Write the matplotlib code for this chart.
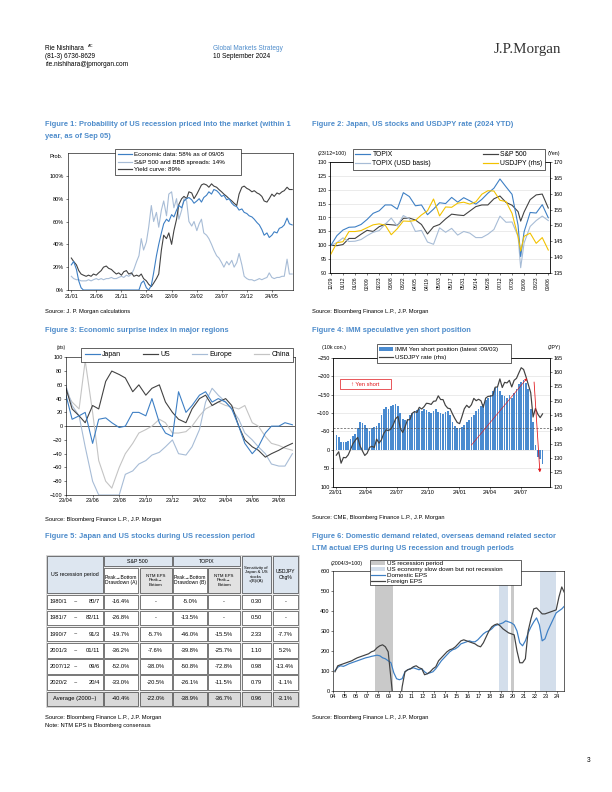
import numpy as np
import pandas as pd
import matplotlib
matplotlib.use("Agg")
import matplotlib.pyplot as plt
import matplotlib.dates as mdates
from matplotlib.lines import Line2D
from matplotlib.patches import Patch, Rectangle

plt.rcParams['font.family'] = ['Liberation Sans', 'DejaVu Sans']
plt.rcParams['axes.linewidth'] = 0.6

W, H = 612, 792
BLUE = '#3d7fc4'
DARK = '#424242'
LIGHT = '#a7bcd6'
GRAY = '#c4c4c4'
YELLOW = '#f2c200'
BARBLUE = '#4a8bd0'
TITLE_BLUE = '#4e8ccb'
HDR = '#dde6f0'
RED = '#e0161b'

# ---------------- data ----------------
# Figure 1: semi-monthly from 2021/01
f1_econ = [22, 25, 18, 8, 2, 0,
           0, 0, 0, 0, 0, 0, 0, 0, 0, 0, 0, 0, 0, 0, 0, 0, 0, 0, 0, 0, 0, 0,
           6, 8, 2, 0, 4, 15, 30, 40, 50, 58,
           62, 60, 66, 64, 70, 74, 72, 78, 80, 81,
           79, 76, 78, 80, 77, 81, 83, 86, 84, 88,
           87, 85, 82, 83, 79, 80, 76, 74, 73, 70,
           71, 68, 67, 65, 64, 62, 59, 57, 53, 48,
           50, 46, 48, 51, 50, 54, 55, 57, 63, 58, 57]
f1_spread = [12, 10, 9, 9, 8, 8, 8, 9, 8, 9,
             10, 9, 10, 9, 10, 10, 11, 10, 10, 11,
             12, 11, 13, 12, 14, 18, 25, 30, 45, 35,
             42, 55, 74, 60, 68, 55, 70, 78, 65, 84,
             86, 72, 80, 62, 70, 80, 78, 60, 56, 60,
             52, 58, 62, 50, 48, 45, 40, 35, 30, 28,
             24, 20, 25, 22, 26, 20, 24, 32, 22, 12,
             10, 9, 9, 8, 9, 10, 9, 10, 11, 15,
             11, 10, 11, 11, 12, 12, 27, 14, 14]
f1_yield = [28, 25, 22, 17, 14, 13, 12, 13, 12, 14,
            13, 15, 17, 20, 21, 19, 18, 16, 14, 15,
            13, 16, 17, 14, 15, 12, 13, 12, 14, 10,
            8, 5, 3, 6, 10, 14, 35, 48, 45, 50,
            40, 52, 62, 75, 80, 82, 80, 86, 85, 80,
            84, 88, 92, 93, 92, 90, 93, 91, 90, 88,
            86, 84, 82, 80, 78, 76, 74, 84, 90, 91,
            89, 88, 86, 87, 85, 84, 82, 78, 77, 80,
            84, 82, 85, 84, 86, 87, 90, 88, 88]
f1_ticks = ['21/01', '21/06', '21/11', '22/04', '22/09', '23/02', '23/07', '23/12', '24/05']

# Figure 2: weekly from 2023/12/29 plus 2024/08/05
f2_topix = [100, 103.5, 105.5, 106.5, 106.6, 107.5, 109.3, 111.5, 112.4, 114.5,
            114.5, 113, 118.9, 117.5, 114.2, 114.5, 111, 113, 115.3, 115,
            117.2, 115.5, 117.1, 116, 114.8, 116.5, 118.7, 120.5, 123.8, 121,
            118.3, 107.2, 96, 104.9, 111.8, 111.6, 114.6, 109.9]
f2_spx = [100, 99.9, 100.3, 102.5, 102.5, 104, 105.4, 105, 106.7, 107.6,
          107.4, 107.2, 109.7, 109.8, 109.1, 107.5, 104.1, 106.7, 107.5, 109.5,
          111.2, 110.9, 110.7, 112.3, 113.9, 114.5, 114.5, 116.7, 117.7, 115.4,
          114.4, 112.1, 108.7, 112, 116.4, 118.1, 118.4, 113.4]
f2_topix_usd = [100, 101, 102.7, 101.4, 101.5, 102.1, 103.5, 104.7, 105.3, 107.6,
                109.8, 106.9, 110.7, 109.5, 105, 105.4, 101.2, 100.4, 106.3, 104.7,
                106.1, 103.7, 105, 104.4, 102.8, 102.8, 104, 105.7, 110.5, 108.3,
                108.4, 103.2, 92, 100.9, 106.8, 108.9, 110.5, 108.9]
f2_usdjpy = [141, 144.6, 144.9, 148.1, 148.1, 148.4, 149.3, 150.2, 150.5, 150.1,
             147.1, 149, 151.4, 151.3, 151.6, 153.3, 154.6, 158.3, 153, 155.8,
             155.7, 157, 157.3, 156.7, 157.4, 159.8, 160.9, 160.8, 157.9, 157.5,
             153.8, 146.5, 142, 146.6, 147.6, 144.4, 146.2, 142.3]

# Figure 3: semi-monthly from 2023/04
f3_japan = [45, 10, 15, 20, -25, 10, 12, 5, -2, 0,
            20, 20, 15, 40, 5, -10, -15, 50, 20, 30,
            45, 50, 35, 40, 35, 25, 0, -25, -40, -30,
            -10, 0, 0, 5, 2]
f3_us = [55, 25, 15, 5, 30, 25, 65, 80, 75, 70,
         50, 60, 45, 55, 60, 35, 20, 10, 5, 25,
         40, 45, 30, 35, 40, 30, 0, -20, -30, -35,
         -45, -40, -35, -30, -25]
f3_europe = [58, 30, 15, -30, -80, -100, -100, -100, -100, -70,
             -65, -55, -50, -42, -38, -30, -20, -40, -42, -30,
             -5, 35, 55, 45, 35, 25, 10, -10, -20, -30,
             -40, -55, -58, -58, -40]
f3_china = [50, 35, 25, 95, 20, -50, -80, -90, -60, -40,
            -25, -10, -5, 0, 10, 5, -10, -10, -8, 0,
            15, 25, 30, 35, 30, 28, 25, 30, 5, 0,
            -15, -25, -28, -32, -35]

# Figure 4: weekly (Tuesday) from 2023/01/03 to 2024/09/03
f4_short = [-40, -35, -22, -20, -22, -25, -30, -38, -42, -60, -75, -72, -68,
            -58, -50, -60, -62, -65, -72, -95, -110, -115, -112, -118, -122, -125,
            -118, -100, -85, -80, -85, -95, -100, -105, -108, -110, -106, -112, -108,
            -104, -100, -106, -110, -104, -100, -96, -102, -105, -95, -75, -65, -60,
            -58, -62, -68, -75, -82, -88, -95, -105, -112, -118, -125, -135, -140,
            -148, -160, -168, -172, -160, -150, -145, -140, -148, -140, -155, -165, -180,
            -185, -190, -182, -165, -110, -75, -12, 20, 25, 38]
f4_usdjpy = [131.0, 132.2, 128.2, 130.2, 130.1, 131.1, 133.0, 135.0, 136.2,
             137.2, 134.2, 132.5, 130.9, 131.7, 133.7, 134.1, 133.7,
             136.6, 135.2, 136.3, 138.6, 139.8, 139.6, 140.1, 141.6, 143.7,
             144.5, 140.3, 138.9, 140.9, 143.3, 143.4, 145.6, 146.2, 145.9,
             147.7, 147.1, 147.9, 149.1, 149.0, 148.7, 149.8, 149.9, 151.7,
             150.4, 150.4, 148.4, 147.4, 147.2, 145.4, 143.8, 142.4,
             142.0, 144.5, 147.2, 148.4, 147.6, 148.6, 150.8, 150.0, 150.5,
             150.0, 147.7, 150.9, 151.5, 151.6, 151.8, 154.7, 154.8, 157.6,
             154.6, 156.4, 156.2, 157.1, 154.8, 157.1, 157.8, 159.7,
             161.5, 160.9, 158.4, 155.6, 152.8, 144.3, 147.3, 145.3, 144.1, 145.4]

# Figure 5 table
t5_start = ['1980/1', '1981/7', '1990/7', '2001/3', '2007/12', '2020/2']
t5_end = ['80/7', '82/11', '91/3', '01/11', '09/6', '20/4']
t5_spx_dd = ['-16.4%', '-26.8%', '-19.7%', '-36.2%', '-52.0%', '-33.0%', '-40.4%']
t5_spx_eps = ['-', '-', '-5.7%', '-7.6%', '-38.0%', '-20.5%', '-22.0%']
t5_tpx_dd = ['-5.0%', '-13.5%', '-46.0%', '-39.8%', '-50.8%', '-26.1%', '-38.9%']
t5_tpx_eps = ['-', '-', '-15.5%', '-25.7%', '-72.8%', '-11.5%', '-36.7%']
t5_sens = ['0.30', '0.50', '2.33', '1.10', '0.98', '0.79', '0.96']
t5_fx = ['-', '-', '-7.7%', '5.2%', '-13.4%', '-1.1%', '-3.1%']

# Figure 6: quarterly from 2004
f6_dom = [100, 118, 125, 122, 128, 135, 140, 145, 150, 155, 160, 165,
          168, 172, 175, 178, 175, 165, 160, 150, 140, 90, 60, 55,
          60, 95, 105, 110, 115, 110, 105, 110, 95, 85, 90, 95,
          110, 130, 150, 165, 180, 195, 205, 210, 220, 235, 240, 245,
          250, 245, 245, 255, 270, 285, 295, 300, 310, 325, 330, 335,
          340, 350, 345, 340, 330, 300, 240, 225, 250, 290, 320, 345,
          365, 330, 250, 260, 300, 330, 360, 390, 400, 410, 425]
f6_for = [95, 125, 130, 135, 140, 145, 150, 158, 165, 170, 175, 180,
          185, 195, 200, 215, 225, 230, 220, 195, 60, -80, -150, -100,
          20, 95, 105, 110, 120, 125, 115, 110, 80, 85, 95, 110,
          120, 150, 165, 180, 195, 205, 210, 220, 235, 250, 255, 250,
          245, 240, 235, 225, 220, 240, 270, 300, 320, 330, 335, 325,
          310, 300, 290, 285, 280, 200, 140, 140, 160, 300, 360, 410,
          415, 400, 385, 385, 390, 395, 400, 405, 470, 520, 490]
f6_recession = [(2007.72, 2009.3), (2019.86, 2020.16)]
f6_slowdown = [(2018.8, 2019.6), (2022.45, 2023.85)]

# ---------------- figure ----------------
fig = plt.figure(figsize=(W / 72, H / 72), dpi=72)
page = fig.add_axes([0, 0, 1, 1])
page.set_xlim(0, W)
page.set_ylim(H, 0)
page.axis('off')


def add_ax(l, t, r, b):
    return fig.add_axes([l / W, 1 - b / H, (r - l) / W, (b - t) / H])


def style(ax, fs=5.5):
    ax.tick_params(labelsize=fs, length=2, width=0.5, pad=1.5)
    for s in ax.spines.values():
        s.set_linewidth(0.6)


def ptext(x, y, s, **kw):
    kw.setdefault('fontsize', 5.7)
    kw.setdefault('va', 'center')
    page.text(x, y, s, **kw)


def legend_box(ax, handles, labels, bbox, ncol=1, fs=6.3, bpad=0.45, lspace=0.3, **kw):
    leg = ax.legend(handles, labels, loc='upper left', bbox_to_anchor=bbox, mode='expand',
                    ncol=ncol, fontsize=fs, frameon=True, fancybox=False, borderpad=bpad,
                    labelspacing=lspace, handlelength=2.2, handletextpad=0.3,
                    borderaxespad=0, columnspacing=1.0, **kw)
    leg.get_frame().set_edgecolor('black')
    leg.get_frame().set_linewidth(0.6)
    leg.get_frame().set_alpha(1)
    leg.set_zorder(10)
    return leg


# header
ptext(45, 48, 'Rie Nishihara', fontsize=6.5)
ptext(88, 46, 'AC', fontsize=4)
ptext(45, 56, '(81-3) 6736-8629', fontsize=6.5)
ptext(45, 64, 'rie.nishihara@jpmorgan.com', fontsize=6.5)
ptext(213, 48, 'Global Markets Strategy', fontsize=6.5, color=TITLE_BLUE)
ptext(213, 56, '10 September 2024', fontsize=6.5)
ptext(527, 50, 'J.P.Morgan', fontsize=15, ha='center', color='#333333',
      family=['Liberation Serif', 'DejaVu Serif'])

# titles and sources
tkw = dict(fontsize=7.5, color=TITLE_BLUE, fontweight='bold')
ptext(45, 125, 'Figure 1: Probability of US recession priced into the market (within 1', **tkw)
ptext(45, 136, 'year, as of Sep 05)', **tkw)
ptext(312, 125, 'Figure 2: Japan, US stocks and USDJPY rate (2024 YTD)', **tkw)
ptext(45, 330, 'Figure 3: Economic surprise index in major regions', **tkw)
ptext(312, 330, 'Figure 4: IMM speculative yen short position', **tkw)
ptext(45, 536, 'Figure 5: Japan and US stocks during US recession period', **tkw)
ptext(312, 536, 'Figure 6: Domestic demand related, overseas demand related sector', **tkw)
ptext(312, 548, 'LTM actual EPS during US recession and trough periods', **tkw)

ptext(45, 311, 'Source: J. P. Morgan calculations')
ptext(312, 311, 'Source: Bloomberg Finance L.P., J.P. Morgan')
ptext(45, 519, 'Source: Bloomberg Finance L.P., J.P. Morgan')
ptext(312, 517, 'Source: CME, Bloomberg Finance L.P., J.P. Morgan')
ptext(45, 717, 'Source: Bloomberg Finance L.P., J.P. Morgan')
ptext(45, 726, 'Note: NTM EPS is Bloomberg consensus')
ptext(312, 717, 'Source: Bloomberg Finance L.P., J.P. Morgan')
ptext(587, 760, '3', fontsize=6.5)

# ---- Figure 1 ----
ax1 = add_ax(67.7, 153, 293, 290)
d1 = pd.date_range('2021-01-01', periods=len(f1_econ), freq='SMS')
ax1.plot(d1, f1_spread, color=LIGHT, lw=1.1)
ax1.plot(d1, f1_yield, color=DARK, lw=1.1)
ax1.plot(d1, f1_econ, color=BLUE, lw=1.1)
ax1.set_ylim(0, 120)
ax1.set_yticks(range(0, 101, 20))
ax1.set_yticklabels([f'{v}%' for v in range(0, 101, 20)])
ax1.set_xlim(pd.Timestamp('2020-12-10'), pd.Timestamp('2024-09-06'))
ax1.set_xticks(pd.date_range('2021-01-01', periods=len(f1_ticks), freq='5MS'))
ax1.set_xticklabels(f1_ticks)
style(ax1)
ptext(50, 156, 'Prob.', fontsize=5.5)
legend_box(ax1, [Line2D([], [], color=BLUE, lw=1.2), Line2D([], [], color=LIGHT, lw=1.2),
                 Line2D([], [], color=DARK, lw=1.2)],
           ['Economic data: 58% as of 09/05', 'S&P 500 and BBB spreads: 14%', 'Yield curve: 89%'],
           (0.21, 1.03, 0.56, 0.0), fs=6.3, bpad=0.45, lspace=0.35)

# ---- Figure 2 ----
ax2 = add_ax(330, 161.7, 550, 273.3)
d2 = list(pd.date_range('2023-12-29', periods=37, freq='7D'))
d2.insert(32, pd.Timestamp('2024-08-05'))
ax2.yaxis.grid(True, color='#d9d9d9', lw=0.5)
ax2.set_axisbelow(True)
ax2.plot(d2, f2_spx, color=DARK, lw=1.1)
ax2.plot(d2, f2_topix_usd, color=LIGHT, lw=1.1)
ax2.plot(d2, f2_topix, color=BLUE, lw=1.1)
ax2.set_ylim(90, 130)
ax2.set_yticks(range(90, 131, 5))
ax2r = ax2.twinx()
ax2r.plot(d2, f2_usdjpy, color=YELLOW, lw=1.1)
ax2r.set_ylim(135, 170)
ax2r.set_yticks(range(135, 171, 5))
ax2.set_xlim(pd.Timestamp('2023-12-28'), pd.Timestamp('2024-09-08'))
ax2.set_xticks(pd.date_range('2023-12-29', '2024-09-06', freq='14D'))
ax2.xaxis.set_major_formatter(mdates.DateFormatter('%m/%d'))
ax2.tick_params(axis='x', labelrotation=90)
style(ax2)
style(ax2r)
ax2.tick_params(axis='x', labelsize=5)
ptext(318, 153, '(23/12=100)', fontsize=5.3)
ptext(548, 153, '(Yen)', fontsize=5.3)
legend_box(ax2r, [Line2D([], [], color=BLUE, lw=1.2), Line2D([], [], color=LIGHT, lw=1.2),
                  Line2D([], [], color=DARK, lw=1.2), Line2D([], [], color=YELLOW, lw=1.2)],
           ['TOPIX', 'TOPIX (USD basis)', 'S&P 500', 'USDJPY (rhs)'],
           (0.105, 1.114, 0.87, 0.0), ncol=2, fs=6.8, bpad=0.35, lspace=0.3)

# ---- Figure 3 ----
ax3 = add_ax(66, 357.3, 295, 495)
d3 = pd.date_range('2023-04-01', periods=len(f3_japan), freq='SMS')
ax3.axhline(0, color='black', lw=0.6)
ax3.plot(d3, f3_china, color=GRAY, lw=1.1)
ax3.plot(d3, f3_europe, color=LIGHT, lw=1.1)
ax3.plot(d3, f3_us, color=DARK, lw=1.1)
ax3.plot(d3, f3_japan, color=BLUE, lw=1.1)
ax3.set_ylim(-100, 100)
ax3.set_yticks(range(-100, 101, 20))
ax3.set_xlim(pd.Timestamp('2023-04-01'), pd.Timestamp('2024-09-07'))
ax3.set_xticks(pd.date_range('2023-04-01', '2024-08-01', freq='2MS'))
ax3.xaxis.set_major_formatter(mdates.DateFormatter('%y/%m'))
style(ax3)
ptext(57, 348, '(pts)', fontsize=4.5)
legend_box(ax3, [Line2D([], [], color=c, lw=1.2) for c in (BLUE, DARK, LIGHT, GRAY)],
           ['Japan', 'US', 'Europe', 'China'], (0.066, 1.068, 0.926, 0.0), ncol=4, fs=7,
           bpad=0.5, lspace=0.3)

# ---- Figure 4 ----
ax4 = add_ax(333.3, 357.7, 550, 486.7)
d4 = pd.date_range('2023-01-03', periods=len(f4_short), freq='7D')
ax4.yaxis.grid(True, color='#d9d9d9', lw=0.5)
ax4.set_axisbelow(True)
ax4.bar(d4, f4_short, width=5, color=BARBLUE, zorder=2)
ax4.axhline(-60, color='#555555', lw=0.7, ls=(0, (3, 2)), zorder=3)
ax4.set_ylim(100, -250)
ax4.set_yticks(range(-250, 101, 50))
ax4r = ax4.twinx()
ax4r.plot(d4, f4_usdjpy, color=DARK, lw=1.2)
ax4r.set_ylim(120, 165)
ax4r.set_yticks(range(120, 166, 5))
ax4.set_xlim(pd.Timestamp('2022-12-25'), pd.Timestamp('2024-09-25'))
ax4.set_xticks(pd.date_range('2023-01-01', '2024-07-01', freq='3MS'))
ax4.xaxis.set_major_formatter(mdates.DateFormatter('%y/%m'))
style(ax4)
style(ax4r)
ptext(322, 348, '(10k con.)', fontsize=5.3)
ptext(548, 348, '(JPY)', fontsize=5.3)
ax4r.add_patch(Rectangle((0.031, 0.757), 0.235, 0.078, transform=ax4r.transAxes,
                         fc='white', ec=RED, lw=0.7, zorder=6))
ax4r.text(0.1485, 0.796, '\u2191 Yen short', transform=ax4r.transAxes, ha='center', va='center',
          fontsize=5.8, color=RED, zorder=7)
ax4r.annotate('', xy=(0.90, 0.853), xytext=(0.631, 0.31), xycoords='axes fraction',
              arrowprops=dict(arrowstyle='-|>', color=RED, lw=0.6, mutation_scale=5))
ax4r.annotate('', xy=(0.954, 0.096), xytext=(0.926, 0.827), xycoords='axes fraction',
              arrowprops=dict(arrowstyle='-|>', color=RED, lw=0.8, mutation_scale=6))
legend_box(ax4r, [Patch(facecolor=BARBLUE), Line2D([], [], color=DARK, lw=1.2)],
           ['IMM Yen short position (latest :09/03)', 'USDJPY rate (rhs)'],
           (0.2, 1.106, 0.62, 0.0), fs=6.3, bpad=0.45, lspace=0.35)

# ---- Figure 5 table ----
cols = [45.7, 103.3, 139, 172.3, 207.3, 240.7, 271.7, 299]
top, mid, hb = 555.3, 567, 593.7
rows = np.linspace(hb, 707, 8)
page.add_patch(Rectangle((cols[0], top), cols[-1] - cols[0], 707 - top,
                         fc='#f0f0f0', ec='#bdbdbd', lw=0.6))


def cell(x0, y0, x1, y1, fc='white', text=None, fs=5.8, **kw):
    page.add_patch(Rectangle((x0 + 0.8, y0 + 0.8), x1 - x0 - 1.6, y1 - y0 - 1.6,
                             fc=fc, ec='black', lw=0.5))
    if text is not None:
        page.text((x0 + x1) / 2, (y0 + y1) / 2, text, ha='center', va='center',
                  fontsize=fs, linespacing=1.05, **kw)


cell(cols[0], top, cols[1], hb, HDR, 'US recession period', fs=5.3)
cell(cols[1], top, cols[3], mid, HDR, 'S&P 500', fs=5.3)
cell(cols[3], top, cols[5], mid, HDR, 'TOPIX', fs=5.3)
cell(cols[1], mid, cols[2], hb, 'white', 'Peak\u2192Bottom\nDrawdown (A)', fs=5.0)
cell(cols[2], mid, cols[3], hb, '#e2e2e2', 'NTM EPS\nPeak\u2192\nBottom', fs=4.4)
cell(cols[3], mid, cols[4], hb, 'white', 'Peak\u2192Bottom\nDrawdown (B)', fs=5.0)
cell(cols[4], mid, cols[5], hb, '#e2e2e2', 'NTM EPS\nPeak\u2192\nBottom', fs=4.4)
cell(cols[5], top, cols[6], hb, HDR, 'Sensitivity of\nJapan & US\nstocks\n=(B)/(A)', fs=4.3)
cell(cols[6], top, cols[7], hb, HDR, 'USDJPY\nChg%', fs=5.0)

n_rows = len(t5_spx_dd)
for i in range(n_rows):
    y0, y1 = rows[i], rows[i + 1]
    avg = i == n_rows - 1
    fc = '#d9d9d9' if avg else 'white'
    if avg:
        cell(cols[0], y0, cols[1], y1, fc, 'Average (2000~)', fs=5.8)
    else:
        cell(cols[0], y0, cols[1], y1, fc)
        yc = (y0 + y1) / 2
        page.text(cols[0] + 4, yc, t5_start[i], ha='left', va='center', fontsize=5.8)
        page.text(75.5, yc, '~', ha='center', va='center', fontsize=5.8)
        page.text(cols[1] - 3.5, yc, t5_end[i], ha='right', va='center', fontsize=5.8)
    for j, col in enumerate([t5_spx_dd, t5_spx_eps, t5_tpx_dd, t5_tpx_eps, t5_sens, t5_fx]):
        cell(cols[j + 1], y0, cols[j + 2], y1, fc, col[i])

# ---- Figure 6 ----
ax6 = add_ax(333.3, 571, 564, 690.7)
x6 = 2004.15 + 0.25 * np.arange(len(f6_dom))
for a, b in f6_recession:
    ax6.axvspan(a, b, color='#c9c9c9', lw=0, zorder=0)
for a, b in f6_slowdown:
    ax6.axvspan(a, b, color='#d3deeb', lw=0, zorder=0)
ax6.plot(x6, f6_dom, color=BLUE, lw=1.2)
ax6.plot(x6, f6_for, color=DARK, lw=1.2)
ax6.set_ylim(0, 600)
ax6.set_yticks(range(0, 601, 100))
ax6.set_xlim(2004, 2024.6)
ax6.set_xticks(range(2004, 2025))
ax6.set_xticklabels([f'{y % 100:02d}' for y in range(2004, 2025)])
style(ax6)
ptext(331, 564, '(2004/3=100)', fontsize=5.3)
legend_box(ax6, [Patch(facecolor='#c9c9c9'), Patch(facecolor='#d3deeb'),
                 Line2D([], [], color=BLUE, lw=1.2), Line2D([], [], color=DARK, lw=1.2)],
           ['US recession period', 'US economy slow down but not recession', 'Domestic EPS', 'Foreign EPS'],
           (0.159, 1.092, 0.655, 0.0), fs=6.3, bpad=0.2, lspace=0.1, handleheight=0.6)

fig.savefig('out.png', dpi=72)
